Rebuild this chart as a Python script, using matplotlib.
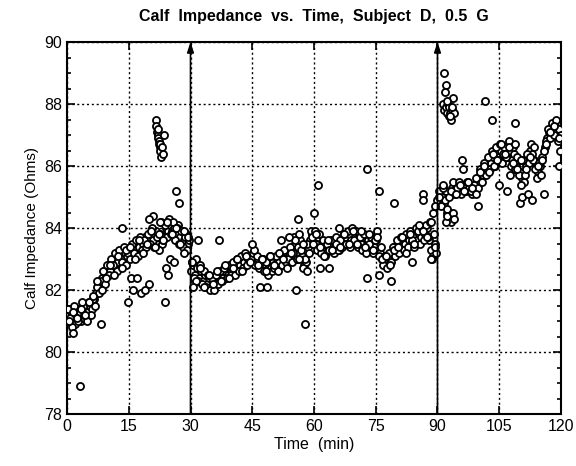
import numpy as np
import matplotlib
matplotlib.use("Agg")
import matplotlib.pyplot as plt
from matplotlib.ticker import MultipleLocator

plt.rcParams['font.family'] = ['Liberation Sans', 'DejaVu Sans']

# ---- data ----
# main band, sampled every 0.5 min from 0 to 120
main_t = np.arange(0, 120.01, 0.5)
main_v = [
    81.2, 81.0, 81.3, 81.1, 80.9, 81.2, 81.4, 81.0, 81.1, 81.3,
    81.3, 81.5, 81.4, 81.7, 81.9, 82.2, 82.1, 82.4, 82.6, 82.5,
    82.7, 82.6, 82.9, 82.8, 83.0, 82.9, 83.1, 83.0, 83.2, 83.1,
    83.3, 83.2, 83.4, 83.3, 83.5, 83.4, 83.6, 83.5, 83.7, 83.6,
    83.7, 83.8, 83.6, 83.9, 83.7, 83.8, 83.5, 83.7, 84.0, 83.9,
    84.1, 83.9, 84.0, 83.8, 84.1, 83.7, 83.9, 83.6, 83.8, 83.5,
    82.6, 82.8, 82.5, 82.7, 82.4, 82.6, 82.3, 82.5, 82.2, 82.4,
    82.1, 82.3, 82.2, 82.4, 82.3, 82.5, 82.4, 82.6, 82.5, 82.7,
    82.6, 82.8, 82.7, 82.9, 82.8, 83.0, 82.9, 83.1, 83.0, 82.9,
    83.0, 83.1, 82.9, 83.0, 82.8, 83.0, 82.7, 82.9, 82.8, 82.7,
    82.9, 82.8, 83.0, 82.9, 83.1, 82.8, 83.0, 83.2, 83.1, 83.3,
    83.2, 83.5, 83.4, 83.6, 83.1, 82.8, 82.9, 83.4, 83.6, 83.8,
    83.6, 83.5, 83.7, 83.4, 83.3, 83.5, 83.2, 83.4, 83.3, 83.5,
    83.4, 83.6, 83.3, 83.5, 83.6, 83.7, 83.5, 83.8, 83.6, 83.9,
    83.7, 83.6, 83.8, 83.5, 83.7, 83.4, 83.6, 83.3, 83.5, 83.4,
    83.6, 83.3, 83.2, 83.0, 82.9, 83.1, 82.8, 83.0, 83.2, 83.4,
    83.3, 83.5, 83.4, 83.6, 83.5, 83.7, 83.6, 83.5, 83.7, 83.8,
    83.6, 83.8, 83.7, 83.9, 83.8, 84.0, 83.6, 83.3, 83.1, 83.5,
    84.9, 85.1, 85.0, 84.8, 85.2, 84.3, 84.5, 85.3, 85.2, 85.4,
    85.3, 85.2, 85.4, 85.3, 85.2, 85.4, 85.3, 85.1, 85.4, 85.5,
    85.6, 85.8, 85.7, 86.0, 85.9, 86.2, 86.1, 86.3, 86.0, 86.4,
    86.3, 86.5, 86.4, 86.6, 86.3, 86.5, 86.2, 86.4, 86.0, 86.2,
    85.8, 85.6, 85.5, 86.0, 86.3, 86.5, 86.4, 86.2, 86.0, 85.8,
    86.0, 86.3, 86.6, 86.9, 87.1, 87.0, 87.2, 87.3, 87.1, 87.2,
    87.0,
]

# second band of readings, offset by a quarter minute
spread_t = np.arange(0.25, 120, 0.5)
spread_v = [
    81.4, 81.1, 80.8, 81.5, 81.2, 81.0, 81.3, 81.6, 81.2, 81.0,
    81.6, 81.2, 81.7, 81.5, 82.1, 81.9, 82.3, 82.6, 82.2, 82.8,
    82.5, 83.0, 82.8, 83.2, 82.6, 83.3, 82.9, 83.4, 82.8, 83.2,
    83.0, 83.5, 83.2, 83.6, 83.1, 83.7, 83.3, 83.6, 83.4, 83.8,
    83.5, 84.0, 83.4, 83.7, 83.3, 84.2, 83.6, 84.1, 83.7, 84.3,
    83.8, 84.2, 83.6, 84.0, 83.5, 83.9, 83.4, 83.7, 83.3, 83.6,
    82.9, 82.4, 83.0, 82.3, 82.8, 82.2, 82.6, 82.1, 82.5, 82.0,
    82.4, 82.0, 82.5, 82.2, 82.6, 82.3, 82.7, 82.4, 82.8, 82.5,
    82.9, 82.5, 83.0, 82.6, 83.1, 82.7, 83.2, 82.8, 83.1, 83.0,
    83.2, 82.8, 83.1, 82.7, 83.0, 82.6, 82.9, 82.5, 83.1, 82.6,
    82.7, 83.1, 82.6, 83.2, 82.8, 83.3, 82.9, 83.0, 83.4, 82.9,
    83.7, 83.0, 83.8, 83.3, 82.7, 83.0, 83.5, 83.2, 83.9, 83.5,
    83.9, 83.3, 83.8, 83.2, 83.6, 83.1, 83.5, 83.3, 83.6, 83.2,
    83.7, 83.3, 83.6, 83.4, 83.8, 83.5, 83.9, 83.4, 84.0, 83.6,
    83.9, 83.4, 83.7, 83.3, 83.8, 83.2, 83.5, 83.7, 83.2, 83.6,
    83.9, 83.1, 83.4, 82.8, 83.1, 82.7, 83.2, 82.9, 83.4, 83.1,
    83.6, 83.2, 83.7, 83.3, 83.8, 83.4, 83.9, 83.6, 83.4, 84.0,
    83.9, 83.5, 84.0, 83.6, 84.1, 83.7, 84.2, 83.0, 83.8, 83.2,
    85.2, 84.7, 85.3, 84.9, 84.5, 85.0, 84.2, 85.5, 85.1, 85.3,
    85.5, 85.1, 85.4, 85.2, 85.5, 85.3, 85.2, 85.4, 85.6, 85.3,
    85.9, 85.5, 86.1, 85.7, 86.3, 85.9, 86.5, 86.0, 86.6, 86.2,
    86.7, 86.1, 86.6, 86.3, 86.8, 86.0, 86.6, 85.9, 86.3, 85.7,
    85.4, 86.2, 85.7, 86.4, 86.1, 86.7, 86.2, 85.9, 85.6, 86.1,
    85.7, 86.5, 86.8, 87.2, 86.9, 87.4, 87.0, 87.5, 86.8, 86.5,
]

# third band of readings, one per minute
third_t = np.arange(0.4, 120, 1.0)
third_v = [
    81.0, 81.3, 81.1, 81.4, 81.2, 81.6, 81.8, 82.3, 82.0, 82.4,
    82.8, 82.5, 83.1, 82.7, 83.3, 83.4, 83.0, 83.6, 83.2, 83.5,
    83.9, 83.4, 83.8, 83.6, 84.2, 83.8, 84.0, 83.5, 83.9, 83.7,
    82.9, 82.3, 82.7, 82.1, 82.5, 82.2, 82.6, 82.3, 82.8, 82.4,
    82.7, 83.0, 82.6, 83.1, 82.9, 83.3, 82.8, 83.0, 82.6, 83.1,
    82.8, 83.2, 83.0, 82.7, 83.2, 83.6, 83.0, 83.5, 82.6, 83.7,
    83.8, 83.4, 83.1, 83.6, 83.3, 83.5, 83.4, 83.8, 83.5, 83.9,
    83.5, 83.9, 83.4, 83.8, 83.3, 83.7, 83.0, 83.1, 82.8, 83.3,
    83.4, 83.7, 83.2, 83.8, 83.5, 84.1, 83.9, 83.7, 84.2, 83.4,
    85.0, 85.4, 84.6, 85.2, 85.1, 85.4, 85.2, 85.5, 85.3, 85.1,
    85.8, 86.0, 85.8, 86.4, 86.2, 86.7, 86.4, 86.6, 86.1, 85.9,
    86.2, 85.9, 86.3, 86.6, 86.0, 86.2, 86.7, 87.1, 87.3, 86.9,
]

# scattered readings away from the main band
stray_t = [3.2, 1.5, 8.3, 13.4, 14.8, 15.5, 16.0, 17.0, 18.0, 19.0,
           20.0, 23.8, 26.5, 27.3, 24.0, 24.5, 25.0, 26.0, 28.5, 21.0,
           22.5, 20.0, 31.8, 37.0, 30.5, 45.0, 46.9, 48.5, 56.1, 57.8,
           55.7, 61.0, 60.0, 72.8, 75.7, 79.4, 86.5, 86.5, 61.4, 63.7,
           72.9, 75.8, 78.6, 83.7, 88.3, 89.0, 89.5, 66.0, 52.0, 54.0,
           92.0, 92.2, 101.5, 103.3, 108.8, 108.8, 107.6, 99.8, 93.8, 94.0,
           110.0, 110.5, 112.0, 113.0, 115.9, 104.9, 106.8, 96.0, 96.2, 119.5]
stray_v = [78.9, 80.6, 80.9, 84.0, 81.6, 82.4, 82.0, 82.4, 81.9, 82.0,
           82.2, 81.6, 85.2, 84.8, 82.7, 82.5, 83.0, 82.9, 83.2, 84.4,
           84.2, 84.3, 83.6, 83.6, 82.1, 83.5, 82.1, 82.1, 84.3, 80.9,
           82.0, 85.4, 84.5, 85.9, 85.2, 84.8, 85.1, 84.9, 82.7, 82.7,
           82.4, 82.5, 82.3, 82.9, 83.0, 84.5, 84.7, 84.0, 83.6, 83.7,
           84.2, 84.4, 88.1, 87.5, 87.4, 86.7, 85.7, 84.7, 84.5, 84.3,
           84.8, 85.0, 85.1, 84.9, 85.1, 85.4, 85.2, 86.2, 85.9, 86.0]

# high cluster near 22 min
burst1_t = [21.5, 21.7, 21.8, 22.0, 22.1, 22.2, 22.3, 22.4, 22.5, 22.6, 22.7, 22.8, 23.0, 23.2, 23.6]
burst1_v = [87.5, 87.3, 87.1, 87.0, 86.9, 87.2, 86.8, 86.7, 86.6, 86.5, 86.7, 86.3, 86.6, 86.4, 87.0]

# high cluster near 92 min
burst2_t = [91.6, 92.0, 91.8, 91.4, 91.6, 92.0, 92.3, 92.5, 92.7, 92.9, 93.1, 93.3, 93.5, 93.8, 94.0, 92.4, 93.0, 93.6]
burst2_v = [89.0, 88.6, 88.4, 88.0, 87.8, 87.9, 87.7, 88.0, 87.6, 87.9, 87.7, 87.5, 87.8, 88.2, 87.7, 88.1, 87.6, 87.9]

# event markers (arrows)
event_times = [30, 90]

x_ticks = [0, 15, 30, 45, 60, 75, 90, 105, 120]
y_ticks = [78, 80, 82, 84, 86, 88, 90]

# ---- figure ----
fig = plt.figure(figsize=(5.76, 4.66), dpi=100)
ax = fig.add_axes([67/576, 1-414/466, (561-67)/576, (414-42)/466])

ax.set_xlim(0, 120)
ax.set_ylim(78, 90)

for t, v in [(main_t, main_v), (spread_t, spread_v), (third_t, third_v),
             (stray_t, stray_v), (burst1_t, burst1_v), (burst2_t, burst2_v)]:
    ax.scatter(t, v, s=26, facecolors='white', edgecolors='black',
               linewidths=1.3, zorder=3)

ax.set_xticks(x_ticks)
ax.set_yticks(y_ticks)
ax.yaxis.set_minor_locator(MultipleLocator(0.5))
ax.grid(True, which='major', color='black', linestyle=(0, (1.5, 2)), linewidth=1.0, zorder=1)
ax.tick_params(which='both', direction='in', top=True, right=True, labelsize=11.5, width=1.2)
ax.tick_params(which='major', length=6)
ax.tick_params(which='minor', length=3)
for s in ax.spines.values():
    s.set_linewidth(1.5)

for et in event_times:
    ax.annotate('', xy=(et, 90), xytext=(et, 78),
                arrowprops=dict(arrowstyle='-|>,head_length=0.6,head_width=0.2',
                                color='black', lw=1.2, shrinkA=0, shrinkB=0),
                zorder=4)

ax.set_xlabel('Time  (min)', fontsize=11.5, labelpad=2)
ax.set_ylabel('Calf Impedance (Ohms)', fontsize=11, labelpad=4)
fig.text(314/576, 1-17/466, 'Calf  Impedance  vs.  Time,  Subject  D,  0.5  G',
         ha='center', va='center', fontsize=11.5, fontweight='bold')

fig.savefig('out.png', dpi=100)
